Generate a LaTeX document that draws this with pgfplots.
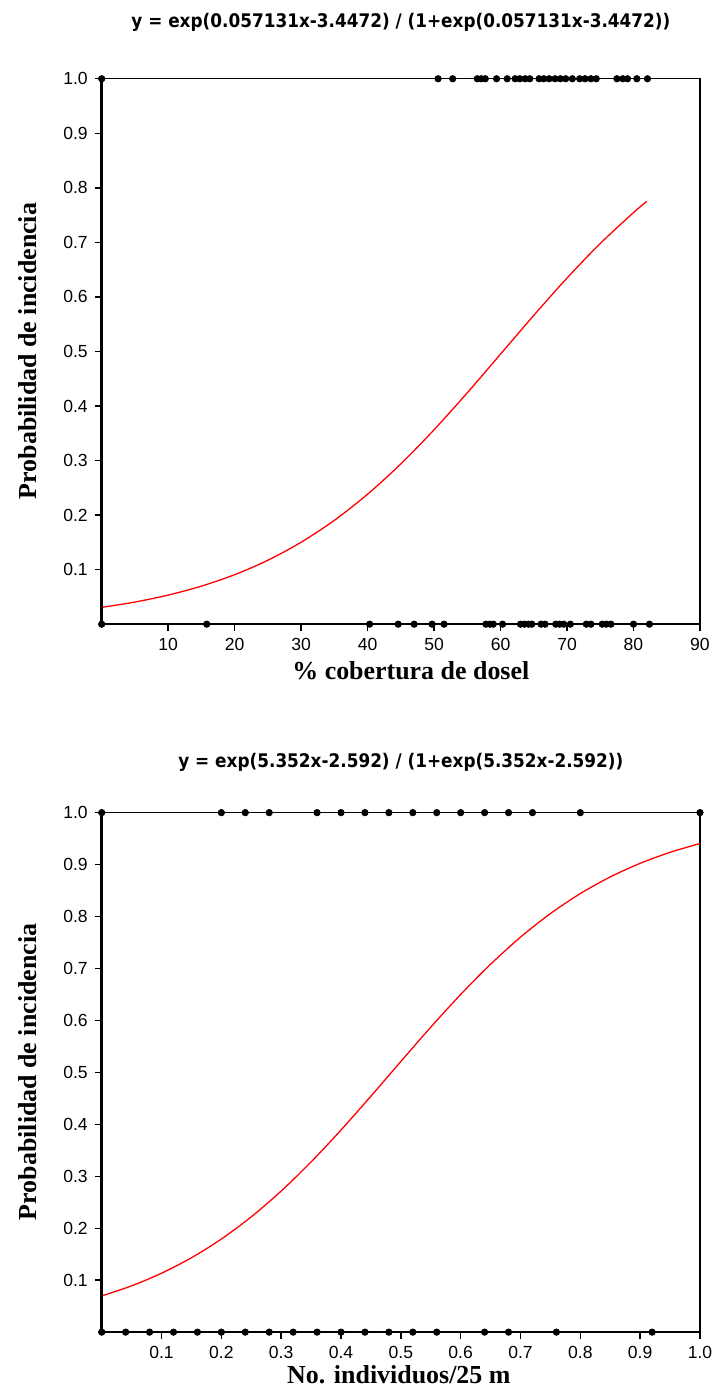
\documentclass[border=0pt]{standalone}
\usepackage{pgfplots}
\pgfplotsset{compat=1.18}
\usepackage{fontspec}
\setmainfont{Liberation Serif}
\newfontfamily\arial{Liberation Sans}
\newfontfamily\tahoma[FakeStretch=0.9]{DejaVu Sans}

\pgfplotsset{
  logit/.style={
    scale only axis,
    anchor=south west,
    ymin=0, ymax=1,
    ytick={0.1,0.2,0.3,0.4,0.5,0.6,0.7,0.8,0.9,1.0},
    tick align=outside,
    xtick pos=bottom, ytick pos=left,
    major tick length=3.5pt,
    tick style={black, line width=0.7pt},
    axis line style={line width=0.7pt},
    ticklabel style={font=\arial\fontsize{8.8}{10}\selectfont},
    /pgf/number format/assume math mode=true,
    yticklabel style={/pgf/number format/.cd, fixed, fixed zerofill, precision=1},
    clip=false,
  },
  dots/.style={only marks, mark=*, mark size=1.6pt, black},
  fit/.style={no marks, smooth, red, line width=0.65pt},
}

\begin{document}
\begin{tikzpicture}[x=1pt,y=1pt]
\path (0,0) rectangle (357.5,695.5);

% top panel
\begin{axis}[logit, at={(51pt,382.5pt)}, width=300pt, height=273.5pt,
  xmin=0, xmax=90, xtick={10,20,...,90}]
\addplot[fit] coordinates {
  (0,0.0308)(5,0.0406)(10,0.0533)(15,0.0698)(20,0.0907)(25,0.1172)
  (30,0.1502)(35,0.1904)(40,0.2383)(45,0.2939)(50,0.3565)(55,0.4243)
  (60,0.4952)(65,0.5662)(70,0.6346)(75,0.6980)(80,0.7546)(82,0.7751)
};
\addplot[dots] coordinates {
  (0,1)(50.6,1)(52.8,1)(56.5,1)(57.1,1)(57.7,1)(59.4,1)(61.0,1)
  (62.2,1)(62.9,1)(63.7,1)(64.4,1)(65.8,1)(66.5,1)(67.3,1)(68.2,1)
  (69.0,1)(69.8,1)(70.8,1)(71.9,1)(72.7,1)(73.6,1)(74.4,1)
  (77.5,1)(78.4,1)(79.1,1)(80.5,1)(82.1,1)
};
\addplot[dots] coordinates {
  (0,0)(15.8,0)(40.3,0)(44.6,0)(47.0,0)(49.7,0)(51.5,0)
  (57.8,0)(58.4,0)(58.9,0)(60.3,0)(63.0,0)(63.6,0)(64.2,0)(64.7,0)
  (66.1,0)(66.7,0)(68.3,0)(68.9,0)(69.5,0)(70.5,0)(72.9,0)(73.6,0)
  (75.3,0)(75.9,0)(76.6,0)(80.0,0)(82.4,0)
};
\draw[line width=1.3pt] (rel axis cs:0,1) -- (rel axis cs:0,0) -- (rel axis cs:1,0);
\end{axis}

% bottom panel
\begin{axis}[logit, at={(51pt,27.5pt)}, width=300pt, height=260.5pt,
  xmin=0, xmax=1, xtick={0.1,0.2,0.3,0.4,0.5,0.6,0.7,0.8,0.9,1.0},
  xticklabel style={/pgf/number format/.cd, fixed, fixed zerofill, precision=1}]
\addplot[fit] coordinates {
  (0,0.0697)(0.05,0.0891)(0.1,0.1134)(0.15,0.1432)(0.2,0.1792)(0.25,0.2220)
  (0.3,0.2716)(0.35,0.3277)(0.4,0.3891)(0.45,0.4542)(0.5,0.5210)(0.55,0.5870)
  (0.6,0.6500)(0.65,0.7082)(0.7,0.7603)(0.75,0.8057)(0.8,0.8442)(0.85,0.8762)
  (0.9,0.9024)(0.95,0.9236)(1.0,0.9405)
};
\addplot[dots] coordinates {
  (0,1)(0.20,1)(0.24,1)(0.28,1)(0.36,1)(0.40,1)(0.44,1)(0.48,1)
  (0.52,1)(0.56,1)(0.60,1)(0.64,1)(0.68,1)(0.72,1)(0.80,1)(1.0,1)
};
\addplot[dots] coordinates {
  (0,0)(0.04,0)(0.08,0)(0.12,0)(0.16,0)(0.20,0)(0.24,0)(0.28,0)
  (0.32,0)(0.36,0)(0.40,0)(0.44,0)(0.48,0)(0.52,0)(0.56,0)
  (0.64,0)(0.68,0)(0.76,0)(0.92,0)
};
\draw[line width=1.3pt] (rel axis cs:0,1) -- (rel axis cs:0,0) -- (rel axis cs:1,0);
\end{axis}

% titles and labels
\node[font=\tahoma\bfseries\fontsize{9.4}{11}\selectfont] at (201,684.5)
  {y = exp(0.057131x-3.4472) / (1+exp(0.057131x-3.4472))};
\node[font=\tahoma\bfseries\fontsize{9.4}{11}\selectfont] at (201,313)
  {y = exp(5.352x-2.592) / (1+exp(5.352x-2.592))};
\node[font=\bfseries\fontsize{13}{15}\selectfont, anchor=base] at (206,355)
  {\% cobertura de dosel};
\node[font=\bfseries\fontsize{13}{15}\selectfont, anchor=base] at (200,1.5)
  {No. individuos/25 m};
\node[font=\bfseries\fontsize{13}{15}\selectfont, rotate=90] at (14,519.5)
  {Probabilidad de incidencia};
\node[font=\bfseries\fontsize{13}{15}\selectfont, rotate=90] at (14,158)
  {Probabilidad de incidencia};
\end{tikzpicture}
\end{document}
